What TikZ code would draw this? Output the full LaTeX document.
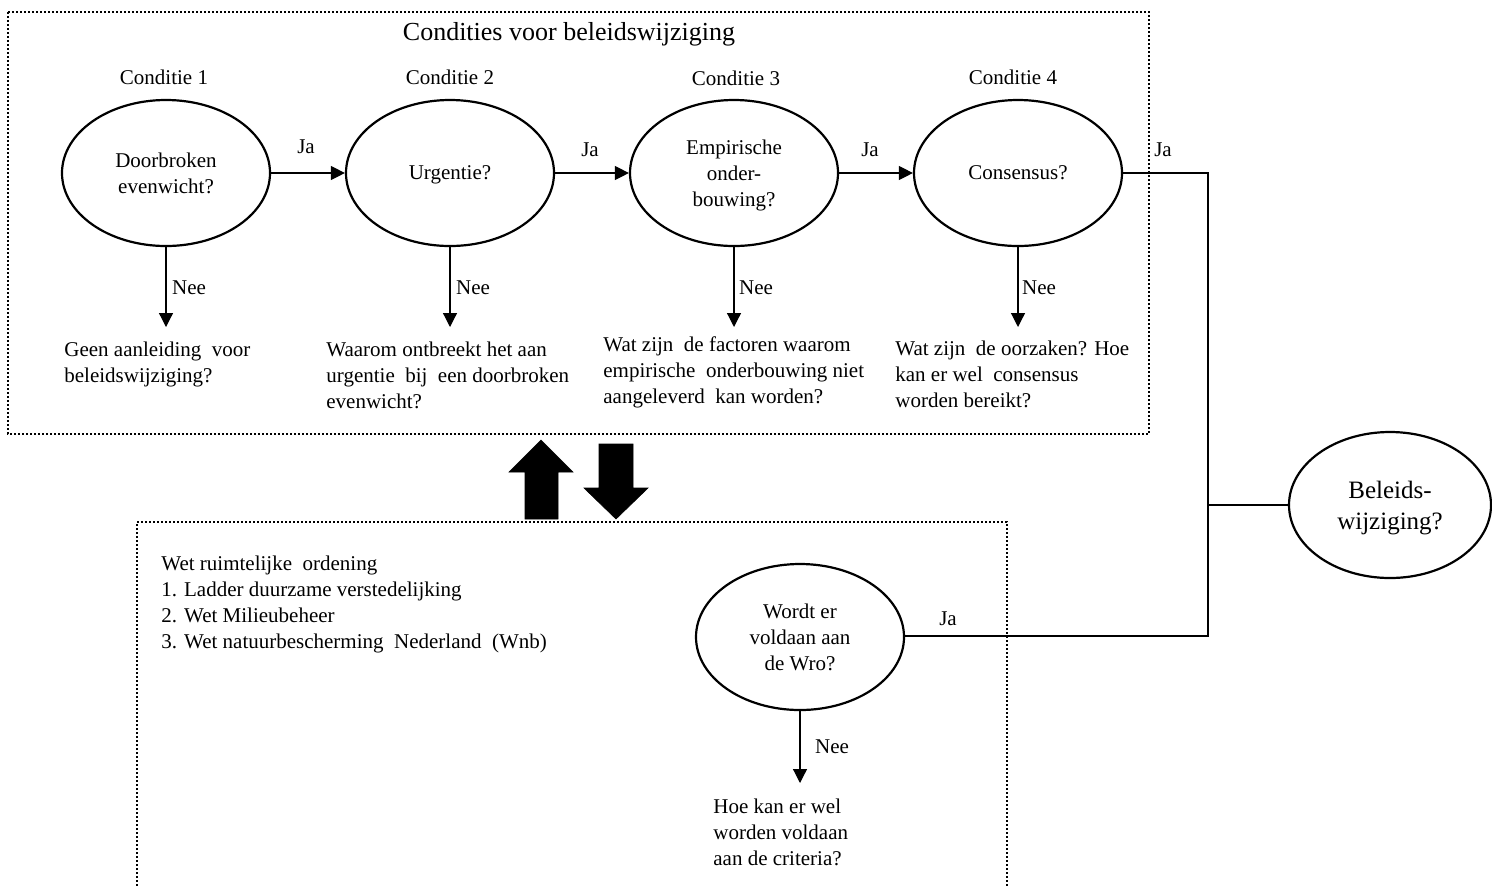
\documentclass[tikz,border=0pt]{standalone}
\usepackage{fontspec}
\setmainfont{Liberation Serif}
\usetikzlibrary{shapes.geometric,arrows.meta}
\begin{document}
\begin{tikzpicture}[x=0.5pt,y=-0.5pt,
  cond/.style={ellipse,draw,line width=1.1pt,minimum width=104pt,minimum height=73pt,inner sep=0pt,text depth=0pt,align=center,font=\fontsize{10.5}{13}\selectfont},
  txt/.style={inner sep=0pt,align=left,anchor=west,font=\fontsize{10.5}{13}\selectfont},
  lbl/.style={inner sep=0pt,font=\fontsize{10.5}{13}\selectfont},
  arr/.style={line width=0.6pt,-{Triangle[length=7pt,width=7pt]}},
  conn/.style={line width=0.6pt},
  dotbox/.style={line width=1pt,dash pattern=on 1pt off 1pt},
  blockarrow/.style={fill=black,draw=black,line width=0.3pt}]
\useasboundingbox (0,0) rectangle (1492,885);

% boxes
\draw[dotbox] (8,12) rectangle (1149,434);
\draw[dotbox] (137,890) -- (137,522) -- (1007,522) -- (1007,890);

% title and condition labels
\node[lbl,font=\fontsize{13}{15}\selectfont] (title) at (569,34) {Condities voor beleidswijziging};
\node[lbl] (c1) at (164,77) {Conditie 1};
\node[lbl] (c2) at (450,77) {Conditie 2};
\node[lbl] (c3) at (736,78) {Conditie 3};
\node[lbl] (c4) at (1013,77) {Conditie 4};

% condition ellipses
\node[cond] (e1) at (166,173) {Doorbroken\\evenwicht?};
\node[cond] (e2) at (450,173) {Urgentie?};
\node[cond] (e3) at (734,173) {Empirische\\onder-\\bouwing?};
\node[cond] (e4) at (1018,173) {Consensus?};

% Ja arrows
\draw[arr] (e1) -- (e2);
\draw[arr] (e2) -- (e3);
\draw[arr] (e3) -- (e4);
\node[lbl] (ja1) at (306,147) {Ja};
\node[lbl] (ja2) at (590,150) {Ja};
\node[lbl] (ja3) at (870,150) {Ja};
\node[lbl] (ja4) at (1163,150) {Ja};

% Nee arrows
\coordinate (n1) at (166,327);
\coordinate (n2) at (450,327);
\coordinate (n3) at (734,327);
\coordinate (n4) at (1018,327);
\draw[arr] (e1) -- (n1);
\draw[arr] (e2) -- (n2);
\draw[arr] (e3) -- (n3);
\draw[arr] (e4) -- (n4);
\node[lbl] (nee1) at (189,288) {Nee};
\node[lbl] (nee2) at (473,288) {Nee};
\node[lbl] (nee3) at (756,288) {Nee};
\node[lbl] (nee4) at (1039,288) {Nee};

% outcome texts
\node[txt] (t1) at (64,364) {Geen aanleiding\ \ voor\\beleidswijziging?};
\node[txt] (t2) at (326,375) {Waarom ontbreekt het aan\\urgentie\ \ bij\ \ een doorbroken\\evenwicht?};
\node[txt] (t3) at (603,372) {Wat zijn\ \ de factoren waarom\\empirische\ \ onderbouwing niet\\aangeleverd\ \ kan worden?};
\node[txt] (t4) at (895,374) {Wat zijn\ \ de oorzaken? Hoe\\kan er wel\ \ consensus\\worden bereikt?};

% block arrows
\fill[blockarrow] (541,440) -- (573,472) -- (558,472) -- (558,519) -- (525,519) -- (525,472) -- (509,472) -- cycle;
\fill[blockarrow] (599,444) -- (633,444) -- (633,488) -- (648,488) -- (616,519) -- (584,488) -- (599,488) -- cycle;

% lower box content
\node[txt] (law) at (161,604) {Wet ruimtelijke\ \ ordening\\1. Ladder duurzame verstedelijking\\2. Wet Milieubeheer\\3. Wet natuurbescherming\ \ Nederland\ \ (Wnb)};

\node[cond] (wro) at (800,637) {Wordt er\\voldaan aan\\de Wro?};
\coordinate (nw) at (800,783);
\draw[arr] (wro) -- (nw);
\node[lbl] (nee5) at (832,747) {Nee};
\node[txt] (t5) at (713,832) {Hoe kan er wel\\worden voldaan\\aan de criteria?};
\node[lbl] (ja5) at (948,619) {Ja};

% final ellipse
\node[cond,minimum width=101pt,font=\fontsize{12.5}{15.5}\selectfont] (bel) at (1390,505) {Beleids-\\wijziging?};

% right-hand connector
\coordinate (j1) at (1208,173);
\coordinate (j2) at (1208,505);
\coordinate (j3) at (1208,636);
\draw[conn] (e4) -- (j1) -- (j3) -- (wro.east |- j3);
\draw[conn] (j2) -- (bel);
\end{tikzpicture}
\end{document}
